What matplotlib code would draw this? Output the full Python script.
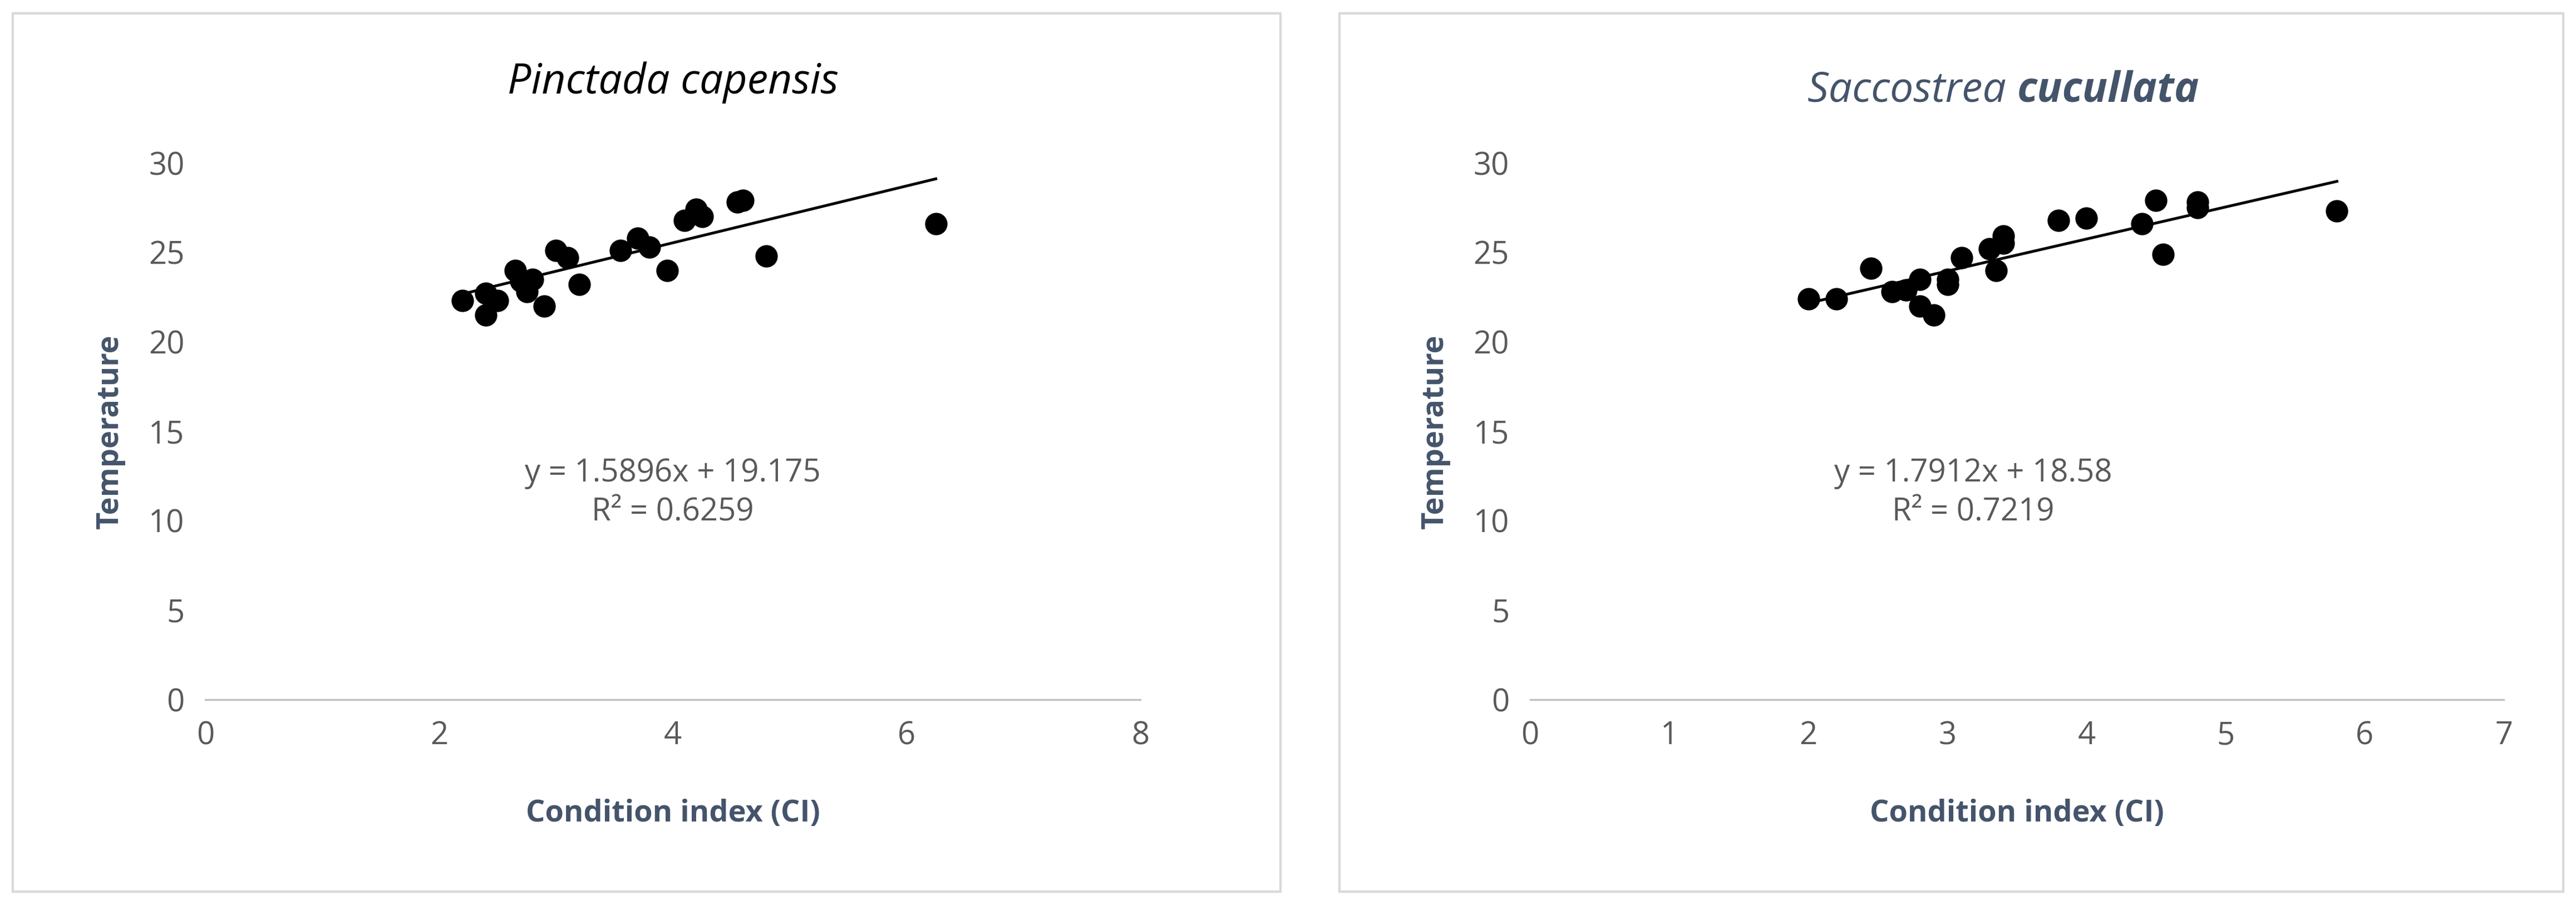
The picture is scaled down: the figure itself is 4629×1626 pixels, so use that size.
import numpy as np
import matplotlib
matplotlib.use('Agg')
import matplotlib.pyplot as plt
from matplotlib.patches import Rectangle

plt.rcParams['font.family'] = ['Open Sans', 'DejaVu Sans']

# Pinctada capensis
ci_pin = [2.2, 2.4, 2.4, 2.5, 2.65, 2.7, 2.75, 2.8, 2.9, 3.0, 3.1, 3.2, 3.55, 3.7, 3.8,
          3.95, 4.1, 4.2, 4.25, 4.55, 4.6, 4.8, 6.25]
temp_pin = [22.3, 22.7, 21.5, 22.3, 24.0, 23.4, 22.8, 23.5, 22.0, 25.1, 24.7, 23.2, 25.1, 25.8, 25.3,
            24.0, 26.8, 27.4, 27.0, 27.8, 27.9, 24.8, 26.6]
# Saccostrea cucullata
ci_sac = [2.0, 2.2, 2.45, 2.6, 2.7, 2.8, 2.8, 2.9, 3.0, 3.0, 3.1, 3.3, 3.35, 3.4, 3.4,
          3.8, 4.0, 4.4, 4.5, 4.55, 4.8, 4.8, 5.8]
temp_sac = [22.4, 22.4, 24.1, 22.8, 22.9, 23.5, 22.0, 21.5, 23.5, 23.2, 24.7, 25.2, 24.0, 25.5, 25.9,
            26.8, 26.9, 26.6, 27.9, 24.9, 27.5, 27.8, 27.3]

fit_pin = (1.5896, 19.175, 0.6259)
fit_sac = (1.7912, 18.58, 0.7219)

tick_col = '#595959'
lab_col = '#44546A'

fig = plt.figure(figsize=(15.43, 5.42), dpi=300)

# chart area borders
for x0, w in [(0.005, 0.492), (0.52, 0.475)]:
    fig.patches.append(Rectangle((x0, 0.015), w, 0.97, transform=fig.transFigure,
                                 fill=False, edgecolor='#D9D9D9', linewidth=1))

def panel(rect, x, y, fit, xmax, eq_pos):
    ax = fig.add_axes(rect)
    ax.scatter(x, y, s=75, color='black', zorder=3)
    m, b, r2 = fit
    xs = np.array([min(x), max(x)])
    ax.plot(xs, m * xs + b, color='black', linewidth=1.2)
    ax.set_xlim(0, xmax)
    ax.set_ylim(0, 30)
    ax.set_xticks(range(0, xmax + 1, 2 if xmax == 8 else 1))
    ax.set_yticks(range(0, 31, 5))
    for s in ['top', 'right', 'left']:
        ax.spines[s].set_visible(False)
    ax.spines['bottom'].set_color('#BFBFBF')
    ax.tick_params(length=0, colors=tick_col, labelsize=13.5, pad=9)
    ax.set_xlabel('Condition index (CI)', fontsize=13, fontweight='bold', color=lab_col, labelpad=20)
    ax.set_ylabel('Temperature', fontsize=13, fontweight='bold', color=lab_col, labelpad=10)
    ax.text(eq_pos[0], eq_pos[1], 'y = %gx + %g\nR² = %g' % (m, b, r2), transform=ax.transAxes,
            ha='center', va='center', fontsize=13.5, color=tick_col, linespacing=1.3)
    return ax

ax1 = panel([0.0797, 0.227, 0.363, 0.593], ci_pin, temp_pin, fit_pin, 8, (0.5, 0.385))
ax1.set_title('Pinctada capensis', fontsize=18, style='italic', color='black', pad=30)

ax2 = panel([0.594, 0.227, 0.378, 0.593], ci_sac, temp_sac, fit_sac, 7, (0.455, 0.385))
ax2.text(0.5, 1.135, 'Saccostrea ', transform=ax2.transAxes, ha='right', va='center',
         fontsize=18, style='italic', color=lab_col)
ax2.text(0.5, 1.135, 'cucullata', transform=ax2.transAxes, ha='left', va='center',
         fontsize=18, style='italic', fontweight='bold', color=lab_col)

fig.savefig('out.png', dpi=300)
